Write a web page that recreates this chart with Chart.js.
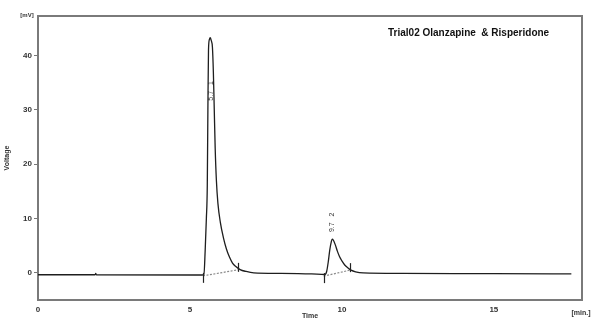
<!DOCTYPE html>
<html><head><meta charset="utf-8">
<script src="https://cdn.jsdelivr.net/npm/chart.js@4.4.1/dist/chart.umd.min.js"></script>
<style>html,body{margin:0;padding:0;background:#fff;}#wrap{width:598px;height:320px;}</style>
</head><body><div id="wrap"><canvas id="c" width="598" height="320"></canvas></div>
<script>
// ---- data ----
const times = [0, 1.88, 1.9, 1.92, 5.40, 5.46, 5.50, 5.54, 5.57, 5.59, 5.61, 5.64, 5.67, 5.70, 5.74, 5.77, 5.80, 5.83, 5.87, 5.92, 6.00, 6.10, 6.20, 6.30, 6.40, 6.50, 6.65, 6.85, 7.10, 8.0, 9.0, 9.44, 9.50, 9.55, 9.60, 9.65, 9.68, 9.72, 9.78, 9.85, 9.92, 10.0, 10.1, 10.2, 10.3, 10.45, 10.7, 12, 15, 17.55];
const voltage = [-0.35, -0.35, -0.1, -0.35, -0.4, -0.35, 4, 10, 16, 30, 41, 43, 43.3, 42.8, 41.5, 37, 30, 23, 17, 12.8, 9.3, 6.5, 4.4, 2.9, 1.8, 1.2, 0.6, 0.25, 0, -0.1, -0.2, -0.3, 0.3, 2.0, 4.2, 5.7, 6.2, 6.0, 5.2, 4.0, 3.0, 2.2, 1.4, 0.9, 0.5, 0.2, 0, -0.1, -0.15, -0.2];
const xTickValues = [0, 5, 10, 15];
const yTickValues = [0, 10, 20, 30, 40];
const peakTimes = [5.68, 9.68];
const peakRetention = ['5.7', '9.7'];
const peakNumbers = ['1', '2'];
const peakStartTimes = [5.43, 9.40];
const peakStartLevels = [-0.55, -0.6];
const peakEndTimes = [6.58, 10.27];
const peakEndLevels = [0.55, 0.5];
const titleText = 'Trial02 Olanzapine  & Risperidone';

// ---- build ----
const trace = times.map((t, i) => ({x: t, y: voltage[i]}));
const baselineSets = peakStartTimes.map((t, i) => ({
  data: [{x: t, y: peakStartLevels[i]}, {x: peakEndTimes[i], y: peakEndLevels[i]}],
  borderColor: '#8a8a8a', borderWidth: 1.2, borderDash: [2, 1.5], pointRadius: 0, tension: 0
}));

const decor = {
  id: 'decor',
  beforeDatasetsDraw(chart) {
    const {ctx, chartArea: a} = chart;
    ctx.save();
    ctx.strokeStyle = '#7a7a7a';
    ctx.lineWidth = 2;
    ctx.strokeRect(a.left, a.top, a.right - a.left, a.bottom - a.top);
    ctx.restore();
  },
  afterDatasetsDraw(chart, args, opts) {
    const {ctx} = chart;
    const xs = chart.scales.x, ys = chart.scales.y;
    ctx.save();
    ctx.strokeStyle = '#222'; ctx.lineWidth = 1.2;
    peakStartTimes.forEach((t, i) => {
      const px = Math.round(xs.getPixelForValue(t)) + 0.5, py = ys.getPixelForValue(peakStartLevels[i]);
      ctx.beginPath(); ctx.moveTo(px, py - 3); ctx.lineTo(px, py + 7); ctx.stroke();
    });
    peakEndTimes.forEach((t, i) => {
      const px = Math.round(xs.getPixelForValue(t)) + 0.5, py = ys.getPixelForValue(peakEndLevels[i]);
      ctx.beginPath(); ctx.moveTo(px, py - 7); ctx.lineTo(px, py + 2); ctx.stroke();
    });
    ctx.fillStyle = '#333';
    ctx.font = '7px "Liberation Sans", Arial, sans-serif';
    ctx.textAlign = 'center'; ctx.textBaseline = 'middle';
    peakTimes.forEach((t, i) => {
      const px = xs.getPixelForValue(t), py = ys.getPixelForValue(opts.labelCenters[i]);
      ctx.save(); ctx.translate(px, py); ctx.rotate(-Math.PI / 2);
      ctx.fillText(peakRetention[i] + '   ' + peakNumbers[i], 0, 0);
      ctx.restore();
    });
    ctx.fillStyle = '#111';
    ctx.font = 'bold 10px "Liberation Sans", Arial, sans-serif';
    ctx.textAlign = 'left';
    ctx.fillText(titleText, 388, 33);
    ctx.fillStyle = '#333';
    ctx.font = 'bold 6px "Liberation Sans", Arial, sans-serif';
    ctx.textAlign = 'center';
    ctx.fillText('[mV]', 27, 15);
    ctx.font = 'bold 7px "Liberation Sans", Arial, sans-serif';
    ctx.fillText('[min.]', 581, 313);
    ctx.restore();
  }
};

new Chart(document.getElementById('c'), {
  type: 'line',
  data: {
    datasets: [
      {data: trace, borderColor: '#1e1e1e', borderWidth: 1.3, pointRadius: 0, cubicInterpolationMode: 'monotone'},
      ...baselineSets
    ]
  },
  options: {
    responsive: false, devicePixelRatio: 1, animation: false,
    layout: {padding: {left: 0, right: 16, top: 16, bottom: 0}},
    plugins: {legend: {display: false}, tooltip: {enabled: false}, decor: {labelCenters: [33.5, 9.3]}},
    scales: {
      x: {
        type: 'linear', min: 0, max: 17.9,
        afterBuildTicks: s => { s.ticks = xTickValues.map(v => ({value: v})); },
        afterFit: s => { s.height = 20; },
        grid: {display: false, drawTicks: false}, border: {display: false},
        ticks: {font: {family: 'Liberation Sans', size: 8, weight: 'bold'}, color: '#333', padding: 5, maxRotation: 0, autoSkip: false},
        title: {display: true, text: 'Time', font: {family: 'Liberation Sans', size: 7, weight: 'bold'}, color: '#333', padding: 0}
      },
      y: {
        type: 'linear', min: -5, max: 47.3,
        afterBuildTicks: s => { s.ticks = yTickValues.map(v => ({value: v})); },
        afterFit: s => { s.width = 38; },
        grid: {drawOnChartArea: false, drawTicks: true, tickLength: 4, color: '#777'}, border: {display: false},
        ticks: {font: {family: 'Liberation Sans', size: 8, weight: 'bold'}, color: '#333', padding: 2},
        title: {display: true, text: 'Voltage', font: {family: 'Liberation Sans', size: 7, weight: 'bold'}, color: '#333', padding: {top: 3, bottom: 0}}
      }
    }
  },
  plugins: [decor]
});
</script></body></html>
